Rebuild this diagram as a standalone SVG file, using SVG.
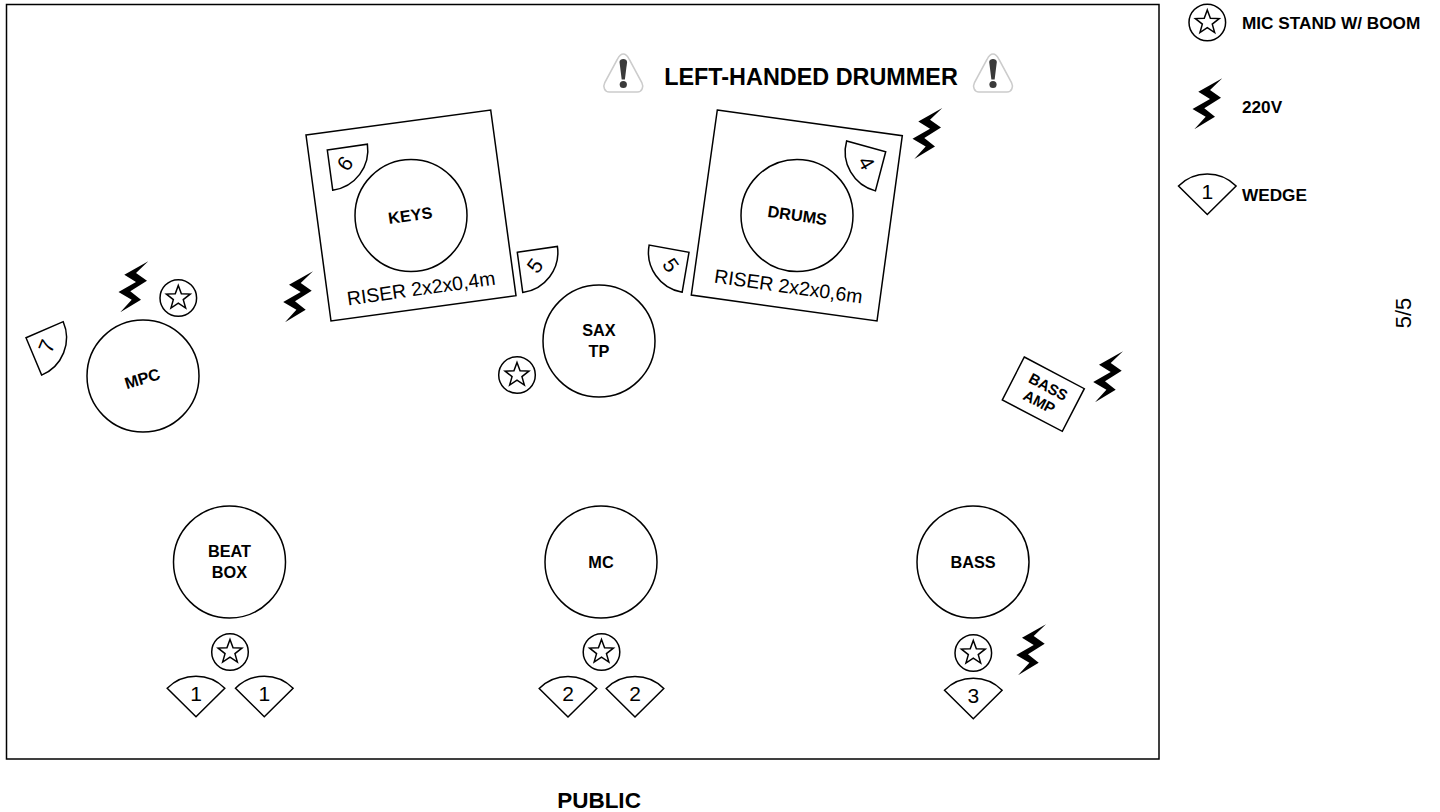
<svg xmlns="http://www.w3.org/2000/svg" width="1440" height="812" viewBox="0 0 1440 812">
<style>
text{font-family:"Liberation Sans",Arial,sans-serif;fill:#000;text-anchor:middle}
.s{fill:#fff;stroke:#000;stroke-width:1.5}
.b{font-weight:bold;font-size:16.3px}
.w{font-size:21px}
.r{font-size:19.5px}
.l{font-weight:bold;font-size:17.2px;text-anchor:start}
.n{fill:none;stroke:#000;stroke-width:1.5}
</style>
<defs>
<path id="bolt" d="M14.3-25.7L-9.7-12.3L2-5L-15.500 5L-2.300 12.700L-13.700 25.300L7 12.700L-3.700 4.300L13-6.300L2-14Z" fill="#000"/>
<g id="mic"><circle r="18.300" class="s"/><path class="n" d="M0-12.500L3.060-4.200L11.900-3.900L4.950 1.600L7.350 10.100L0 5.200L-7.350 10.100L-4.950 1.600L-11.900-3.900L-3.060-4.200Z"/></g>
<path id="wedge" class="s" d="M0 0L-28.800-28.500A40.500 40.500 0 0 1 28.800-28.500Z"/>
<g id="warn"><path d="M0 1.500C3 1.500 4.500 4 6 7L18.500 30C20.500 34 19 39.500 14 39.500H-14C-19 39.500-20.500 34-18.500 30L-6 7C-4.500 4-3 1.500 0 1.500Z" fill="#fff" stroke="#ccc" stroke-width="1.600"/><path d="M-3.800 9.500C-3.800 5.500 3.800 5.500 3.800 9.500L1.600 27H-1.600Z" fill="#3a3a3a"/><circle cy="32" r="3.600" fill="#3a3a3a"/></g>
</defs>
<g id="connectors"></g>
<rect id="stage" x="6.500" y="4.500" width="1152.500" height="754.500" fill="none" stroke="#000" stroke-width="1.500"/>

<g id="warn-left"><use href="#warn" x="623.300" y="52.500"/></g>
<g id="warn-right"><use href="#warn" x="993" y="52.500"/></g>
<g id="warning-label"><text x="811" y="85" font-size="23.400" font-weight="bold">LEFT-HANDED DRUMMER</text></g>

<g id="riser-keys"><path class="s" d="M306 135L490.700 110L516 295.700L331 321Z"/>
<text class="r" transform="translate(422,295) rotate(-8)">RISER 2x2x0,4m</text></g>
<g id="keys"><circle class="s" cx="411" cy="215.500" r="56"/><text class="b" transform="translate(411,221) rotate(-8)">KEYS</text></g>
<g id="wedge-keys-6" transform="translate(327.300,150) rotate(127)"><use href="#wedge"/><text class="w" transform="translate(0,-22) rotate(180)" y="7.500">6</text></g>
<g id="wedge-keys-5" transform="translate(517.300,252.300) rotate(127)"><use href="#wedge"/><text class="w" transform="translate(0,-22) rotate(180)" y="7.500">5</text></g>

<g id="riser-drums"><path class="s" d="M717.300 110L902.300 135.700L877 321L691.300 295Z"/>
<text class="r" transform="translate(787.500,293) rotate(8)">RISER 2x2x0,6m</text></g>
<g id="drums"><circle class="s" cx="797" cy="215.500" r="56"/><text class="b" transform="translate(796.500,221) rotate(8)">DRUMS</text></g>
<g id="wedge-drums-4" transform="translate(885.700,151.700) rotate(-120)"><use href="#wedge"/><text class="w" transform="translate(0,-22) rotate(180)" y="7.500">4</text></g>
<g id="wedge-drums-5" transform="translate(689,252.300) rotate(-125)"><use href="#wedge"/><text class="w" transform="translate(0,-22) rotate(180)" y="7.500">5</text></g>

<g id="mpc"><circle class="s" cx="143" cy="376" r="56"/><text class="b" transform="translate(144,384) rotate(-17)">MPC</text></g>
<g id="wedge-mpc-7" transform="translate(26,337.700) rotate(112)"><use href="#wedge"/><text class="w" transform="translate(0,-22) rotate(180)" y="7.500">7</text></g>
<g id="sax-tp"><circle class="s" cx="599" cy="341" r="56"/><text class="b" x="599" y="336">SAX</text><text class="b" x="599" y="357">TP</text></g>
<g id="beat-box"><circle class="s" cx="229.500" cy="562" r="56"/><text class="b" x="229.500" y="556.700">BEAT</text><text class="b" x="229.500" y="578.300">BOX</text></g>
<g id="mc"><circle class="s" cx="601" cy="562" r="56"/><text class="b" x="601" y="568">MC</text></g>
<g id="bass"><circle class="s" cx="973" cy="562" r="56"/><text class="b" x="973" y="568">BASS</text></g>

<g id="bass-amp"><path class="s" d="M1024.300 357L1084.300 388.700L1062.300 431.300L1002.300 400Z"/>
<text class="b" style="font-size:15px" transform="translate(1045.800,391.500) rotate(28)">BASS</text><text class="b" style="font-size:15px" transform="translate(1036.800,406.500) rotate(28)">AMP</text></g>

<g id="mic-mpc"><use href="#mic" x="178.300" y="298"/></g>
<g id="mic-sax"><use href="#mic" x="517" y="375"/></g>
<g id="mic-beat"><use href="#mic" x="230" y="652"/></g>
<g id="mic-mc"><use href="#mic" x="601.500" y="652"/></g>
<g id="mic-bass"><use href="#mic" x="973.300" y="653"/></g>

<g id="bolt-mpc"><use href="#bolt" x="134" y="287"/></g>
<g id="bolt-keys"><use href="#bolt" x="298.700" y="297"/></g>
<g id="bolt-drums"><use href="#bolt" x="928" y="133.700"/></g>
<g id="bolt-amp"><use href="#bolt" x="1108.700" y="377"/></g>
<g id="bolt-bass"><use href="#bolt" x="1031.700" y="650"/></g>

<g id="wedge-b1" transform="translate(196,716.700)"><use href="#wedge"/><text class="w" y="-16">1</text></g>
<g id="wedge-b2" transform="translate(264.300,716.700)"><use href="#wedge"/><text class="w" y="-16">1</text></g>
<g id="wedge-m1" transform="translate(568,717)"><use href="#wedge"/><text class="w" y="-16">2</text></g>
<g id="wedge-m2" transform="translate(635,717)"><use href="#wedge"/><text class="w" y="-16">2</text></g>
<g id="wedge-bass" transform="translate(973.300,718.700)"><use href="#wedge"/><text class="w" y="-16">3</text></g>

<g id="legend-mic"><use href="#mic" x="1207.300" y="22.500"/><text class="l" x="1242" y="29">MIC STAND W/ BOOM</text></g>
<g id="legend-220v"><use href="#bolt" x="1208" y="104"/><text class="l" x="1242" y="113">220V</text></g>
<g id="legend-wedge"><g transform="translate(1207.300,214.500)"><use href="#wedge"/><text class="w" y="-16">1</text></g><text class="l" x="1242" y="200.500">WEDGE</text></g>

<text id="public" x="599" y="808" font-size="22.500" font-weight="bold">PUBLIC</text>
<text id="page" transform="translate(1411,313) rotate(-90)" font-size="22">5/5</text>
</svg>
